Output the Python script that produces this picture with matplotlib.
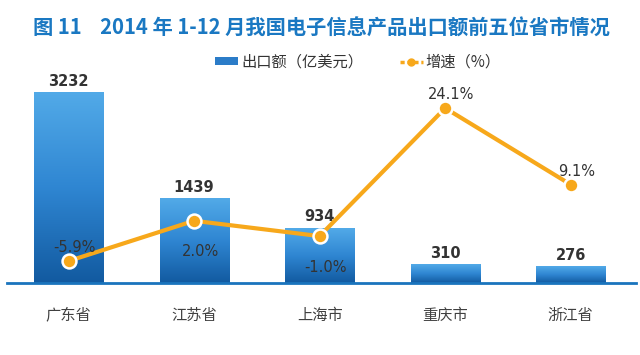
"""Recreate: 2014年1-12月我国电子信息产品出口额前五位省市情况."""
import numpy as np
import matplotlib
matplotlib.use("Agg")
import matplotlib.pyplot as plt
from matplotlib.colors import LinearSegmentedColormap
from matplotlib.patches import Patch
from matplotlib.lines import Line2D

plt.rcParams['font.family'] = ['Noto Sans CJK SC', 'DejaVu Sans']

# ================== Data ================== #
provinces = ["广东省", "江苏省", "上海市", "重庆市", "浙江省"]
export_value = [3232, 1439, 934, 310, 276]          # 亿美元
growth_rate = [-5.9, 2.0, -1.0, 24.1, 9.1]           # %
growth_labels = ["-5.9%", "2.0%", "-1.0%", "24.1%", "9.1%"]
growth_label_above = [True, False, False, True, True]

title = "图 11    2014 年 1-12 月我国电子信息产品出口额前五位省市情况"

# ================== Figure ================== #
fig = plt.figure(figsize=(6.4, 3.55), dpi=100)
ax = fig.add_axes([7 / 640, 1 - 283 / 355, 629 / 640, 206 / 355])

blue_cmap = LinearSegmentedColormap.from_list("bar", ["#125aa0", "#2f86d2", "#52aae8"])
orange = "#f7a81b"
text_dark = "#333333"

x = np.arange(len(provinces))
bar_w = 0.55
bars = ax.bar(x, export_value, width=bar_w, color="none", edgecolor="none")
grad = np.linspace(0, 1, 256).reshape(-1, 1)
for b in bars:
    x0, h = b.get_x(), b.get_height()
    ax.imshow(grad, cmap=blue_cmap, origin="lower", aspect="auto",
              extent=(x0, x0 + bar_w, 0, h), zorder=2)

ax.set_xlim(-0.49, 4.52)
ax.set_ylim(0, 3500)

for xi, v in zip(x, export_value):
    ax.text(xi, v + 60, str(v), ha="center", va="bottom", fontsize=10.5,
            fontweight="bold", color=text_dark, family=["DejaVu Sans"])

for s in ["top", "right", "left"]:
    ax.spines[s].set_visible(False)
ax.spines["bottom"].set_color("#1a74bd")
ax.spines["bottom"].set_linewidth(2)
ax.set_yticks([])
ax.set_xticks(x)
ax.set_xticklabels(provinces, fontsize=11, color="#404040")
ax.tick_params(axis="x", length=0, pad=17)

# ================== Growth line ================== #
ax2 = ax.twinx()
ax2.set_ylim(-10.2, 30.2)
ax2.axis("off")
ax2.plot(x, growth_rate, color=orange, lw=3, zorder=3)
ax2.plot(x, growth_rate, "o", color=orange, markersize=10,
         markeredgecolor="white", markeredgewidth=1.8, zorder=4)
for xi, g, lab, above in zip(x, growth_rate, growth_labels, growth_label_above):
    dy = 1.1 if above else -4.6
    ax2.text(xi + 0.05, g + dy, lab, ha="center",
             va="bottom" if above else "top", fontsize=10.5,
             color=text_dark, family=["DejaVu Sans"])

# ================== Title & legend ================== #
fig.text(33 / 640, 1 - 28 / 355, title, fontsize=14.6, fontweight="bold",
         color="#1a78c2", va="center", ha="left")

handles = [
    Patch(facecolor="#2b7cc8", edgecolor="none"),
    Line2D([0], [0], color=orange, lw=2.5, ls=(0, (1.2, 0.8)), marker="o",
           markersize=5, markerfacecolor=orange, markeredgecolor=orange),
]
fig.legend(handles, ["出口额（亿美元）", "增速（%）"], loc="center",
           bbox_to_anchor=(358 / 640, 1 - 62 / 355), ncol=2, frameon=False,
           fontsize=11, handlelength=1.5, handleheight=0.45,
           columnspacing=2.4, handletextpad=0.2, labelcolor="#333333")

fig.savefig("out.png", dpi=100)
